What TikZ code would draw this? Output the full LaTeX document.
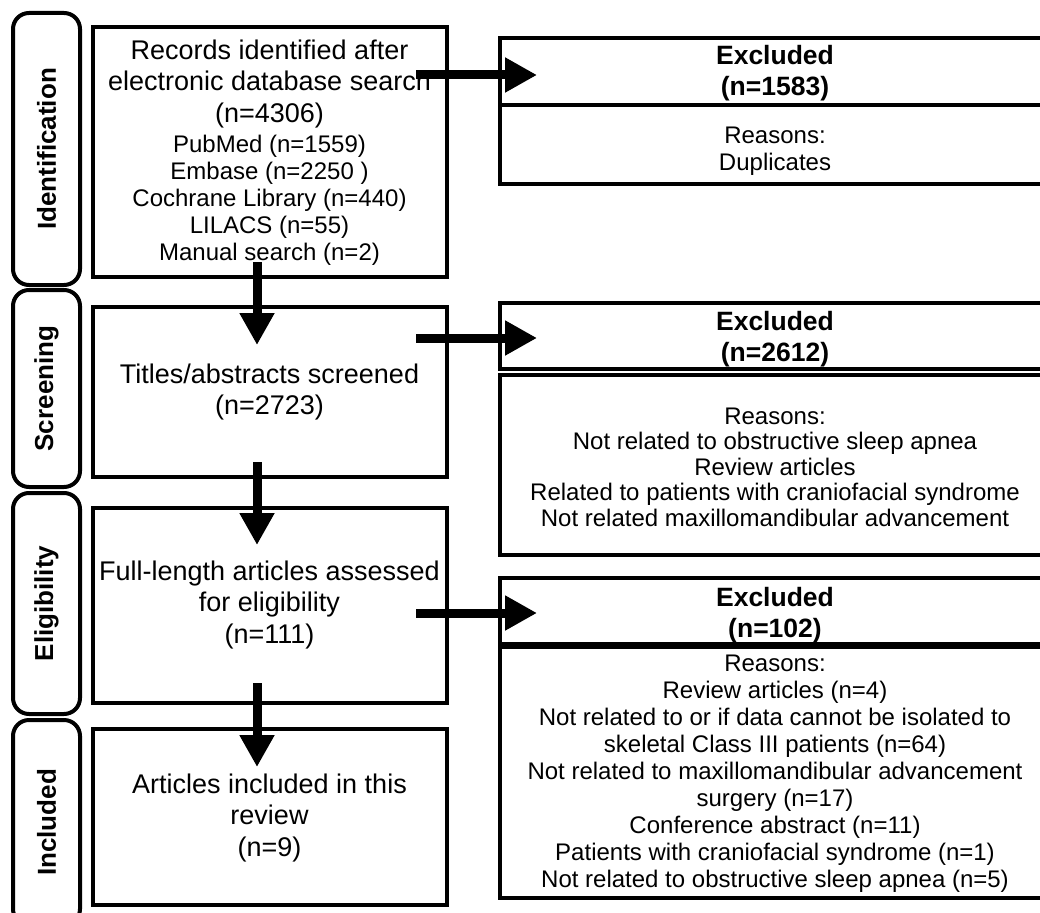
\documentclass[tikz,border=0pt]{standalone}
\usepackage{fontspec}
\setmainfont{Liberation Sans}
\usetikzlibrary{arrows.meta}
\begin{document}
\begin{tikzpicture}[x=1pt,y=-1pt,
  frame/.style={draw, line width=4pt, rectangle, inner sep=0pt},
  side/.style={draw, line width=4pt, rounded corners=16pt, rotate=90, inner sep=0pt, font=\fontsize{26}{30}\selectfont\bfseries},
  big/.style={align=center, inner sep=0pt, font=\fontsize{27}{31.5}\selectfont},
  small/.style={align=center, inner sep=0pt, font=\fontsize{24}{27}\selectfont},
  smalltight/.style={align=center, inner sep=0pt, font=\fontsize{24}{25.5}\selectfont},
  head/.style={align=center, inner sep=0pt, font=\fontsize{26.5}{30.5}\selectfont\bfseries},
  flow/.style={line width=9pt, -{Triangle[length=32pt,width=33pt]}}]
\clip (0,0) rectangle (1040,912);
\fill[white] (0,0) rectangle (1040,912);

% stage labels
\node[side, minimum width=272pt, minimum height=67pt] (sid) at (46.5,149) {Identification};
\node[side, minimum width=197pt, minimum height=67pt] (sscr) at (46.5,388.5) {Screening};
\node[side, minimum width=221pt, minimum height=67pt] (sel) at (46.5,603.5) {Eligibility};
\node[side, minimum width=205pt, minimum height=67pt] (sinc) at (46.5,822.5) {Included};

% main column boxes
\node[frame, minimum width=354pt, minimum height=250pt] (b1) at (269.5,152) {};
\node[frame, minimum width=354pt, minimum height=170pt] (b2) at (269.5,392) {};
\node[frame, minimum width=354pt, minimum height=195pt] (b3) at (269.5,605.5) {};
\node[frame, minimum width=354pt, minimum height=176pt] (b4) at (269.5,817) {};

\node[big] (t1a) at (269.5,84) {Records identified after\\electronic database search\\(n=4306)};
\node[small] (t1b) at (269.5,200) {PubMed (n=1559)\\Embase (n=2250 )\\Cochrane Library (n=440)\\LILACS (n=55)\\Manual search (n=2)};
\node[big] (t2) at (269.5,392) {Titles/abstracts screened\\(n=2723)};
\node[big] (t3) at (269.5,605) {Full-length articles assessed\\for eligibility\\(n=111)};
\node[big] (t4) at (269.5,818) {Articles included in this\\review\\(n=9)};

% excluded boxes
\node[frame, minimum width=546pt, minimum height=67pt] (r1h) at (773,71.5) {};
\node[frame, minimum width=546pt, minimum height=79pt] (r1b) at (773,144.5) {};
\node[frame, minimum width=546pt, minimum height=66pt] (r2h) at (773,336) {};
\node[frame, minimum width=546pt, minimum height=180pt] (r2b) at (773,465) {};
\node[frame, minimum width=546pt, minimum height=66pt] (r3h) at (773,611) {};
\node[frame, minimum width=546pt, minimum height=251pt] (r3b) at (773,772.5) {};

\node[head] (r1ht) at (775,73) {Excluded\\(n=1583)};
\node[small] (r1bt) at (775,151) {Reasons:\\Duplicates};
\node[head] (r2ht) at (775,339) {Excluded\\(n=2612)};
\node[smalltight] (r2bt) at (775,467) {Reasons:\\Not related to obstructive sleep apnea\\Review articles\\Related to patients with craniofacial syndrome\\Not related maxillomandibular advancement};
\node[head] (r3ht) at (775,615) {Excluded\\(n=102)};
\node[small] (r3bt) at (775,773.5) {Reasons:\\Review articles (n=4)\\Not related to or if data cannot be isolated to\\skeletal Class III patients (n=64)\\Not related to maxillomandibular advancement\\surgery (n=17)\\Conference abstract (n=11)\\Patients with craniofacial syndrome (n=1)\\Not related to obstructive sleep apnea (n=5)};

% connectors
\coordinate (a1s) at (416,75);  \coordinate (a1e) at (537,75);
\coordinate (a2s) at (416,338); \coordinate (a2e) at (537,338);
\coordinate (a3s) at (416,613); \coordinate (a3e) at (537,613);
\coordinate (v1s) at (257,262); \coordinate (v1e) at (257,345);
\coordinate (v2s) at (257,462); \coordinate (v2e) at (257,545);
\coordinate (v3s) at (257,683); \coordinate (v3e) at (257,767);
\draw[flow] (a1s) -- (a1e);
\draw[flow] (a2s) -- (a2e);
\draw[flow] (a3s) -- (a3e);
\draw[flow] (v1s) -- (v1e);
\draw[flow] (v2s) -- (v2e);
\draw[flow] (v3s) -- (v3e);
\end{tikzpicture}
\end{document}
